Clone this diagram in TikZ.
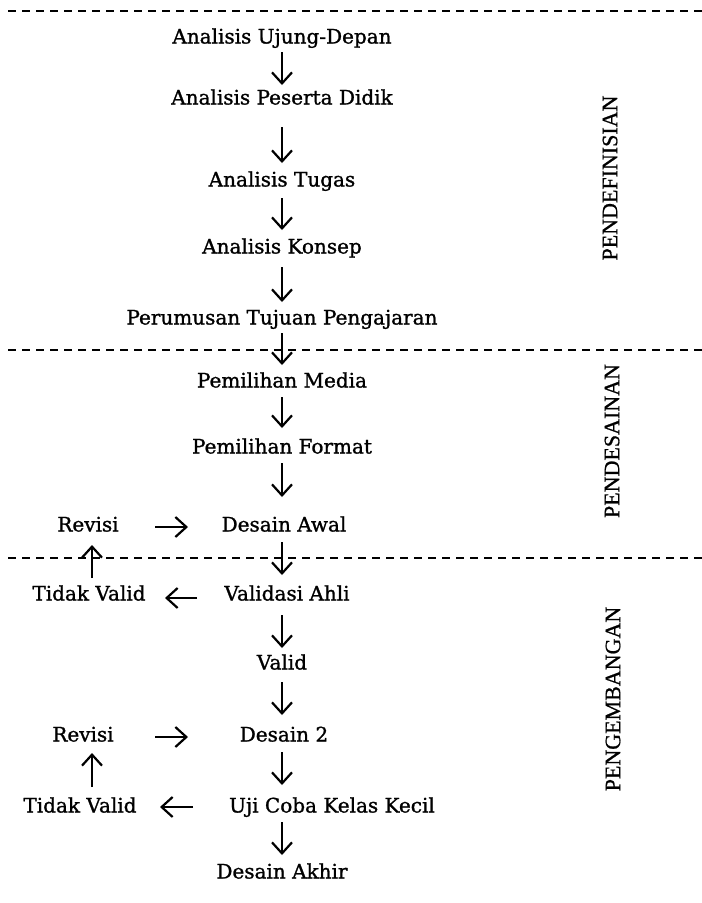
\documentclass[tikz,border=0pt]{standalone}
\usepackage{fontspec}
\setmainfont{DejaVu Serif}[RawFeature={embolden=1.2}]
\newfontfamily\sidefont{Liberation Serif}[RawFeature={embolden=0.8}]
\usetikzlibrary{arrows.meta}
\begin{document}
\begin{tikzpicture}[x=1pt,y=-1pt,
  lbl/.style={inner sep=0pt, text height=15pt, text depth=0pt, font=\fontsize{20}{24}\selectfont},
  side/.style={inner sep=0pt, rotate=90, font=\sidefont\fontsize{22}{26}\selectfont},
  arr/.style={line width=2.2pt, -{Straight Barb[length=11pt,width=20pt]}},
  divider/.style={line width=1.7pt, dash pattern=on 7.5pt off 6.5pt}]
\useasboundingbox (0,0) rectangle (702,903);
% dividers
\draw[divider] (8,11) -- (702,11);
\draw[divider] (8,350) -- (702,350);
\draw[divider] (8,558) -- (702,558);
% column reference
\coordinate (col) at (282,0);
\coordinate (lcol) at (92,0);
% main column
\node[lbl] (n1) at (282,36) {Analisis Ujung-Depan};
\node[lbl] (n2) at (282,97) {Analisis Peserta Didik};
\node[lbl] (n3) at (282,179) {Analisis Tugas};
\node[lbl] (n4) at (282,246) {Analisis Konsep};
\node[lbl] (n5) at (282,317) {Perumusan Tujuan Pengajaran};
\node[lbl] (n6) at (282,380) {Pemilihan Media};
\node[lbl] (n7) at (282,446) {Pemilihan Format};
\node[lbl] (n8) at (284,524) {Desain Awal};
\node[lbl] (n9) at (287,593) {Validasi Ahli};
\node[lbl] (n10) at (282,662) {Valid};
\node[lbl] (n11) at (284,734) {Desain 2};
\node[lbl] (n12) at (332,805) {Uji Coba Kelas Kecil};
\node[lbl] (n13) at (282,871) {Desain Akhir};
% left column
\node[lbl] (r1) at (88,524) {Revisi};
\node[lbl] (t1) at (89,593) {Tidak Valid};
\node[lbl] (r2) at (83,734) {Revisi};
\node[lbl] (t2) at (80,805) {Tidak Valid};
% side labels
\node[side] (s1) at (610,178) {PENDEFINISIAN};
\node[side] (s2) at (612,441) {PENDESAINAN};
\node[side] (s3) at (613,699) {PENGEMBANGAN};
% vertical arrows
\draw[arr, shorten <=16pt, shorten >=12pt] (n1.center -| col) -- (n2.center -| col);
\draw[arr, shorten <=30pt, shorten >=16pt] (n2.center -| col) -- (n3.center -| col);
\draw[arr, shorten <=19pt, shorten >=16pt] (n3.center -| col) -- (n4.center -| col);
\draw[arr, shorten <=21pt, shorten >=15pt] (n4.center -| col) -- (n5.center -| col);
\draw[arr, shorten <=16pt, shorten >=15pt] (n5.center -| col) -- (n6.center -| col);
\draw[arr, shorten <=17pt, shorten >=18pt] (n6.center -| col) -- (n7.center -| col);
\draw[arr, shorten <=17pt, shorten >=27pt] (n7.center -| col) -- (n8.center -| col);
\draw[arr, shorten <=18pt, shorten >=18pt] (n8.center -| col) -- (n9.center -| col);
\draw[arr, shorten <=22pt, shorten >=14pt] (n9.center -| col) -- (n10.center -| col);
\draw[arr, shorten <=20pt, shorten >=19pt] (n10.center -| col) -- (n11.center -| col);
\draw[arr, shorten <=18pt, shorten >=20pt] (n11.center -| col) -- (n12.center -| col);
\draw[arr, shorten <=17pt, shorten >=16pt] (n12.center -| col) -- (n13.center -| col);
% up arrows
\draw[arr, shorten <=15pt, shorten >=21pt] (t1.center -| lcol) -- (r1.center -| lcol);
\draw[arr, shorten <=18pt, shorten >=19pt] (t2.center -| lcol) -- (r2.center -| lcol);
% horizontal arrows
\draw[arr, shorten <=67pt, shorten >=96pt] ([yshift=-3pt]r1.center) -- ([yshift=-3pt]n8.center);
\draw[arr, shorten <=90pt, shorten >=76pt] ([yshift=-5pt]n9.center) -- ([yshift=-5pt]t1.center);
\draw[arr, shorten <=72pt, shorten >=96pt] ([yshift=-3pt]r2.center) -- ([yshift=-3pt]n11.center);
\draw[arr, shorten <=139pt, shorten >=80pt] ([yshift=-2pt]n12.center) -- ([yshift=-2pt]t2.center);
\end{tikzpicture}
\end{document}
